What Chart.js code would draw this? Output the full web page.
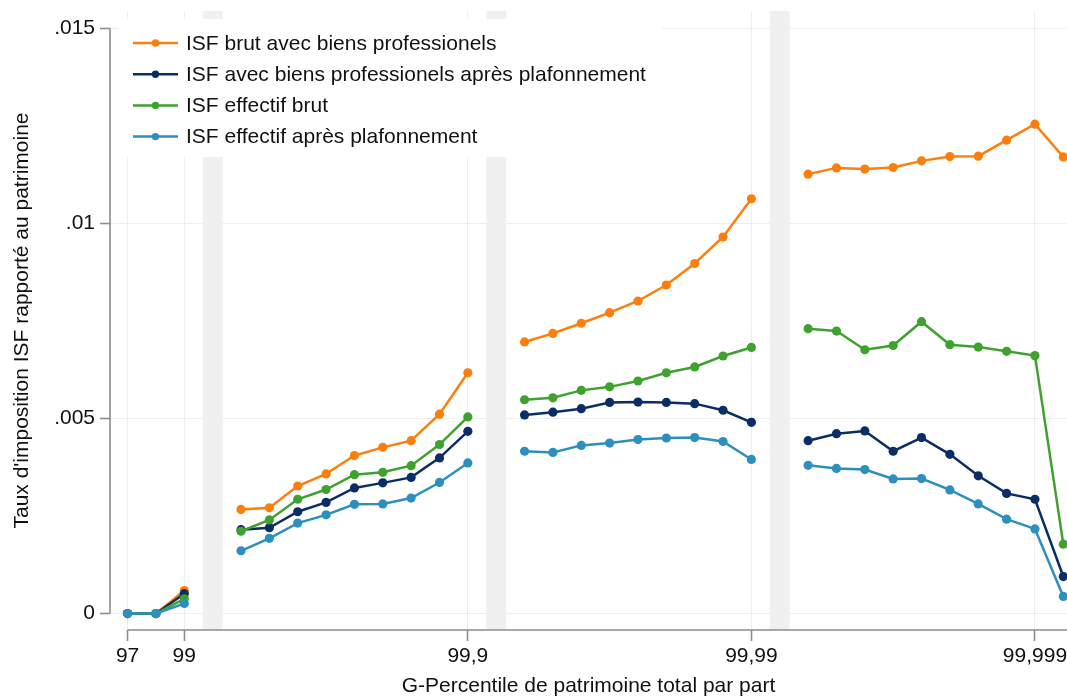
<!DOCTYPE html>
<html><head><meta charset="utf-8">
<script src="https://cdn.jsdelivr.net/npm/chart.js@4.4.1/dist/chart.umd.min.js"></script>
<style>html,body{margin:0;padding:0;background:#fff;overflow:hidden}</style>
</head><body>
<canvas id="c" width="1067" height="696"></canvas>
<script>
// x positions (equal spacing; 3, 13, 23 are the breaks shown as grey bands)
const positions = [0,1,2,3,4,5,6,7,8,9,10,11,12,13,14,15,16,17,18,19,20,21,22,23,24,25,26,27,28,29,30,31,32,33];
const gapPositions = [3,13,23];
const tickPositions = [0,2,12,22,32];
const tickLabels = ['97','99','99,9','99,99','99,999'];
const yTickValues = [0,0.005,0.01,0.015];
const yTickLabels = ['0','.005','.01','.015'];

const seriesNames = [
  'ISF brut avec biens professionels',
  'ISF avec biens professionels après plafonnement',
  'ISF effectif brut',
  'ISF effectif après plafonnement'
];
const isfBrut = [0,0,0.00059,null,0.00267,0.00271,0.00327,0.00358,0.00405,0.00426,0.00443,0.00511,0.00617,null,0.00696,0.00718,0.00744,0.00771,0.00801,0.00842,0.00897,0.00965,0.01063,null,0.01126,0.01142,0.01139,0.01143,0.01160,0.01171,0.01172,0.01213,0.01254,0.01170];
const isfPlaf = [0,0,0.00051,null,0.00215,0.00220,0.00261,0.00285,0.00322,0.00335,0.00349,0.00399,0.00467,null,0.00509,0.00516,0.00525,0.00541,0.00542,0.00541,0.00538,0.00521,0.00490,null,0.00443,0.00461,0.00468,0.00416,0.00451,0.00408,0.00353,0.00308,0.00293,0.00095];
const isfEffBrut = [0,0,0.00038,null,0.00211,0.00240,0.00293,0.00318,0.00356,0.00362,0.00379,0.00433,0.00504,null,0.00548,0.00553,0.00572,0.00581,0.00596,0.00617,0.00632,0.00660,0.00682,null,0.00730,0.00724,0.00676,0.00687,0.00748,0.00689,0.00683,0.00672,0.00661,0.00178];
const isfEffPlaf = [0,0,0.00026,null,0.00161,0.00193,0.00232,0.00253,0.00280,0.00281,0.00296,0.00336,0.00386,null,0.00416,0.00413,0.00431,0.00437,0.00446,0.00450,0.00451,0.00441,0.00395,null,0.00380,0.00372,0.00369,0.00345,0.00346,0.00317,0.00281,0.00242,0.00217,0.00044];
const seriesValues = [isfBrut, isfPlaf, isfEffBrut, isfEffPlaf];
const seriesColors = ['#fc7f0e','#0b2d66','#3fa12e','#2d8fbd'];

const FONT = '"Liberation Sans", Arial, sans-serif';
const FS = 21;

const datasets = seriesValues.map((vals, i) => ({
  label: seriesNames[i],
  data: positions.map((p, k) => ({x: p, y: vals[k]})),
  borderColor: seriesColors[i],
  backgroundColor: seriesColors[i],
  pointBackgroundColor: seriesColors[i],
  pointBorderColor: seriesColors[i],
  borderWidth: 2.5,
  pointRadius: 4.6,
  pointBorderWidth: 0,
  spanGaps: false,
  tension: 0,
  clip: false,
  order: 3 - i
}));

const decor = {
  id: 'decor',
  beforeDatasetsDraw(chart) {
    const {ctx, chartArea: a, scales: {x, y}} = chart;
    ctx.save();
    ctx.fillStyle = '#f0f0f0';
    gapPositions.forEach(g => {
      const c = x.getPixelForValue(g);
      const hw = x.getPixelForValue(g + 0.35) - c;
      ctx.fillRect(c - hw, a.top, 2 * hw, a.bottom - a.top);
    });
    // axis lines
    ctx.strokeStyle = '#8c8c8c';
    ctx.lineWidth = 1.6;
    ctx.beginPath();
    ctx.moveTo(a.left, y.getPixelForValue(yTickValues[yTickValues.length - 1]));
    ctx.lineTo(a.left, y.getPixelForValue(yTickValues[0]));
    ctx.moveTo(x.getPixelForValue(tickPositions[0]), a.bottom);
    ctx.lineTo(a.right, a.bottom);
    ctx.stroke();
    ctx.restore();
  },
  afterDatasetsDraw(chart) {
    const {ctx, chartArea: a} = chart;
    ctx.save();
    ctx.font = FS + 'px ' + FONT;
    const tw = Math.max(...seriesNames.map(s => ctx.measureText(s).width));
    const bx = a.left + 8, by = 19, rowH = 31.2;
    ctx.fillStyle = '#fff';
    ctx.fillRect(bx, by, 68 + tw + 16, 138);
    seriesNames.forEach((name, i) => {
      const cy = by + 24 + i * rowH;
      ctx.strokeStyle = seriesColors[i];
      ctx.fillStyle = seriesColors[i];
      ctx.lineWidth = 2.5;
      ctx.beginPath();
      ctx.moveTo(bx + 15, cy); ctx.lineTo(bx + 60, cy); ctx.stroke();
      ctx.beginPath(); ctx.arc(bx + 37.5, cy, 3.7, 0, Math.PI * 2); ctx.fill();
      ctx.fillStyle = '#111';
      ctx.textBaseline = 'middle';
      ctx.textAlign = 'left';
      ctx.fillText(name, bx + 68, cy + 1);
    });
    ctx.restore();
  }
};

const noPad = s => { s.paddingTop = 0; s.paddingBottom = 0; s.paddingLeft = 0; s.paddingRight = 0; };

new Chart(document.getElementById('c'), {
  type: 'line',
  data: {datasets},
  plugins: [decor],
  options: {
    responsive: false,
    devicePixelRatio: 1,
    animation: false,
    layout: {autoPadding: false, padding: {top: 11, right: 0, left: 0, bottom: 0}},
    plugins: {legend: {display: false}, tooltip: {enabled: false}},
    scales: {
      x: {
        type: 'linear',
        min: -0.62,
        max: 33.13,
        afterBuildTicks: s => { s.ticks = tickPositions.map(v => ({value: v})); },
        afterFit: s => { s.height = 66; noPad(s); },
        ticks: {
          autoSkip: false, maxRotation: 0, padding: 3,
          color: '#111', font: {family: FONT, size: FS},
          callback: v => tickLabels[tickPositions.indexOf(v)]
        },
        grid: {color: '#eeeeee', lineWidth: 1, tickColor: '#8c8c8c', tickLength: 11, tickWidth: 1.6},
        border: {display: false},
        title: {display: true, text: 'G-Percentile de patrimoine total par part', color: '#111', font: {family: FONT, size: FS}, padding: {top: 0, bottom: -2.5}}
      },
      y: {
        type: 'linear',
        min: -0.00042,
        max: 0.01544,
        afterBuildTicks: s => { s.ticks = yTickValues.map(v => ({value: v})); },
        afterFit: s => { s.width = 110; noPad(s); },
        ticks: {
          padding: 5, color: '#111', font: {family: FONT, size: FS},
          callback: v => yTickLabels[yTickValues.indexOf(v)]
        },
        grid: {color: '#eeeeee', lineWidth: 1, tickColor: '#8c8c8c', tickLength: 10, tickWidth: 1.6},
        border: {display: false},
        title: {display: true, text: "Taux d'imposition ISF rapporté au patrimoine", color: '#111', font: {family: FONT, size: FS}, padding: {top: 10, bottom: 0}}
      }
    }
  }
});
</script>
</body></html>
